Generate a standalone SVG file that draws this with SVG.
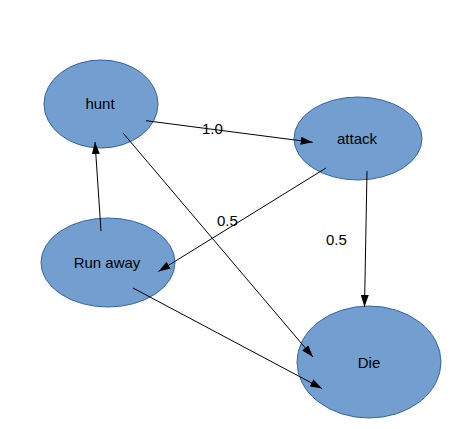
<svg xmlns="http://www.w3.org/2000/svg" width="472" height="429" viewBox="0 0 472 429">
<defs>
<style>
.node ellipse{fill:#729fcf;stroke:#3465a4;stroke-width:1}
.node text{font-family:"Liberation Sans",Arial,sans-serif;font-size:15px;fill:#000;text-anchor:middle}
.edges line{stroke:#000;stroke-width:1;marker-end:url(#ah)}
.lbl{font-family:"Liberation Sans",Arial,sans-serif;font-size:15px;fill:#000}
</style>
<marker id="ah" viewBox="0 0 12 8" refX="12" refY="4" markerWidth="12" markerHeight="8" markerUnits="userSpaceOnUse" orient="auto">
<path d="M0,0 L12,4 L0,8 Z" fill="#000"/>
</marker>
</defs>
<rect width="472" height="429" fill="#fff"/>
<g id="hunt" class="node"><ellipse cx="101" cy="104" rx="57" ry="44"/><text x="100" y="109">hunt</text></g>
<g id="attack" class="node"><ellipse cx="358" cy="138.5" rx="64" ry="41.5"/><text x="357" y="144">attack</text></g>
<g id="runaway" class="node"><ellipse cx="108" cy="262.5" rx="67" ry="44.5"/><text x="107" y="268">Run away</text></g>
<g id="die" class="node"><ellipse cx="369" cy="362" rx="72" ry="56"/><text x="369" y="368">Die</text></g>
<g id="edges" class="edges">
<line x1="146" y1="120.7" x2="312.7" y2="142.3"/>
<line x1="123" y1="133" x2="313" y2="357"/>
<line x1="326" y1="168" x2="158.5" y2="271.5"/>
<line x1="367" y1="171" x2="364.5" y2="307"/>
<line x1="101" y1="231" x2="95" y2="142"/>
<line x1="133" y1="288" x2="322" y2="388.5"/>
</g>
<g id="labels">
<text class="lbl" x="202" y="134">1.0</text>
<text class="lbl" x="217" y="226">0.5</text>
<text class="lbl" x="326" y="245">0.5</text>
</g>
</svg>
